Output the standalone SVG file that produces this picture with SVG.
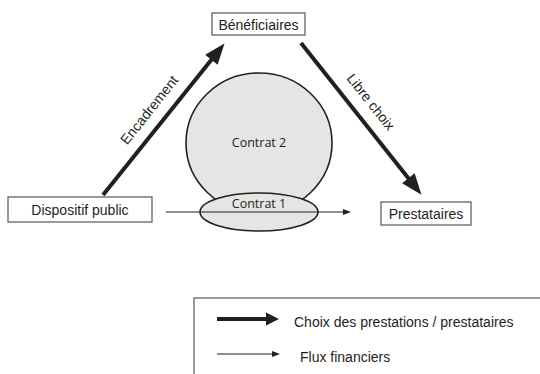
<svg xmlns="http://www.w3.org/2000/svg" width="540" height="374" viewBox="0 0 540 374">
<style>
.box{fill:#fff;stroke:#555;stroke-width:1.2}
.lbl{font-family:"Liberation Sans",Arial,sans-serif;font-size:14px;fill:#231f20}
.ct{font-family:"Open Sans","Noto Sans",sans-serif;font-size:12.5px;fill:#231f20}
.thick{stroke:#231f20;stroke-width:4;fill:none}
.thin{stroke:#231f20;stroke-width:1.2;fill:none}
.shape{fill:#e6e4e4;stroke:#231f20;stroke-width:1.6}
</style>
<defs>
<marker id="headL" markerUnits="userSpaceOnUse" markerWidth="24" markerHeight="20" refX="1" refY="8" orient="auto" overflow="visible">
<path d="M0,0 L21,8 L0,16 z" fill="#231f20"/>
</marker>
<marker id="headM" markerUnits="userSpaceOnUse" markerWidth="14" markerHeight="14" refX="1" refY="6.5" orient="auto" overflow="visible">
<path d="M0,0 L13,6.5 L0,13 z" fill="#231f20"/>
</marker>
<marker id="headS" markerUnits="userSpaceOnUse" markerWidth="10" markerHeight="8" refX="1" refY="3" orient="auto" overflow="visible">
<path d="M0,0 L8,3 L0,6 z" fill="#231f20"/>
</marker>
</defs>

<g id="contrat2">
<ellipse class="shape" cx="259" cy="143" rx="73" ry="70"/>
<text class="ct" x="259" y="147" text-anchor="middle">Contrat 2</text>
</g>
<g id="contrat1">
<ellipse class="shape" cx="259" cy="212" rx="59" ry="19"/>
<text class="ct" x="259" y="208" text-anchor="middle">Contrat 1</text>
</g>

<g id="connectors">
<line class="thick" x1="103" y1="195" x2="212" y2="59" marker-end="url(#headL)"/>
<text class="lbl" transform="translate(153,113) rotate(-51.3)" text-anchor="middle">Encadrement</text>
<line class="thick" x1="301" y1="43" x2="409" y2="179" marker-end="url(#headL)"/>
<text class="lbl" transform="translate(367,105) rotate(51.5)" text-anchor="middle">Libre choix</text>
<line class="thin" x1="166" y1="212" x2="344" y2="212" marker-end="url(#headS)"/>
</g>

<g id="beneficiaires">
<rect class="box" x="212" y="13" width="93" height="22"/>
<text class="lbl" x="258.5" y="29.5" text-anchor="middle" font-size="13.5">Bénéficiaires</text>
</g>
<g id="dispositif">
<rect class="box" x="8" y="197" width="144" height="25"/>
<text class="lbl" x="80" y="215" text-anchor="middle">Dispositif public</text>
</g>
<g id="prestataires">
<rect class="box" x="381" y="202" width="90" height="23"/>
<text class="lbl" x="426" y="219" text-anchor="middle">Prestataires</text>
</g>

<g id="legend">
<rect class="box" x="194" y="298" width="360" height="100"/>
<line class="thick" x1="217" y1="319" x2="267" y2="319" marker-end="url(#headM)"/>
<text class="lbl" x="294" y="327">Choix des prestations / prestataires</text>
<line class="thin" x1="217" y1="354" x2="273" y2="354" marker-end="url(#headS)"/>
<text class="lbl" x="300" y="362">Flux financiers</text>
</g>
</svg>
